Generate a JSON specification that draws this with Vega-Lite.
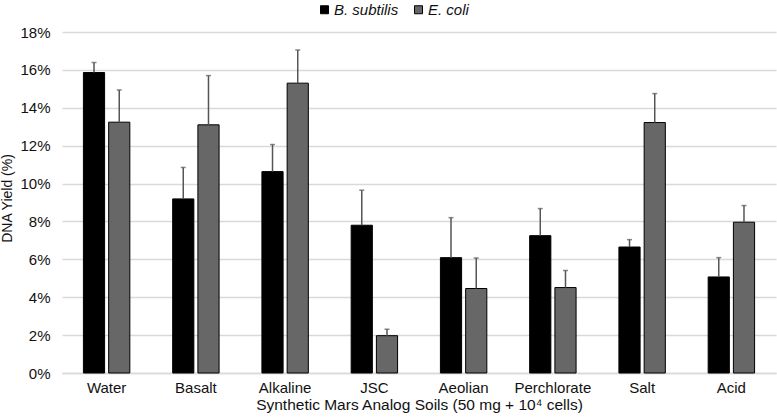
{
  "$schema": "https://vega.github.io/schema/vega-lite/v6.json",
  "width": 714,
  "height": 341,
  "autosize": {"type": "none"},
  "padding": {"left": 62, "top": 32, "right": 1, "bottom": 44},
  "background": "white",
  "config": {
    "view": {"stroke": null},
    "font": "Liberation Sans",
    "axis": {"labelFont": "Liberation Sans", "titleFont": "Liberation Sans", "labelColor": "#111", "titleColor": "#111"}
  },
  "data": {
    "values": [
      {"soil": "Water", "strain": "B. subtilis", "value": 0.1586, "err": 0.1639},
      {"soil": "Water", "strain": "E. coli", "value": 0.1324, "err": 0.1494},
      {"soil": "Basalt", "strain": "B. subtilis", "value": 0.0919, "err": 0.1085},
      {"soil": "Basalt", "strain": "E. coli", "value": 0.1310, "err": 0.1570},
      {"soil": "Alkaline", "strain": "B. subtilis", "value": 0.1063, "err": 0.1206},
      {"soil": "Alkaline", "strain": "E. coli", "value": 0.1530, "err": 0.1705},
      {"soil": "JSC", "strain": "B. subtilis", "value": 0.0780, "err": 0.0965},
      {"soil": "JSC", "strain": "E. coli", "value": 0.0197, "err": 0.0231},
      {"soil": "Aeolian", "strain": "B. subtilis", "value": 0.0609, "err": 0.0820},
      {"soil": "Aeolian", "strain": "E. coli", "value": 0.0446, "err": 0.0607},
      {"soil": "Perchlorate", "strain": "B. subtilis", "value": 0.0725, "err": 0.0868},
      {"soil": "Perchlorate", "strain": "E. coli", "value": 0.0451, "err": 0.0541},
      {"soil": "Salt", "strain": "B. subtilis", "value": 0.0665, "err": 0.0704},
      {"soil": "Salt", "strain": "E. coli", "value": 0.1322, "err": 0.1475},
      {"soil": "Acid", "strain": "B. subtilis", "value": 0.0507, "err": 0.0609},
      {"soil": "Acid", "strain": "E. coli", "value": 0.0796, "err": 0.0884}
    ]
  },
  "encoding": {
    "x": {
      "field": "soil", "type": "nominal", "sort": null,
      "scale": {"paddingInner": 0.48, "paddingOuter": 0.24},
      "axis": {
        "title": "Synthetic Mars Analog Soils (50 mg + 10⁴ cells)",
        "labelAngle": 0, "labelFontSize": 15, "titleFontSize": 15.5,
        "ticks": false, "domainColor": "#d9d9d9", "domainWidth": 1.5,
        "labelPadding": 7, "titlePadding": 2, "titleFontWeight": "normal",
        "labelOverlap": false, "labelBound": false
      }
    },
    "xOffset": {
      "field": "strain", "type": "nominal",
      "scale": {"domain": ["B. subtilis", "E. coli"], "paddingInner": 0.16, "paddingOuter": 0}
    }
  },
  "layer": [
    {
      "mark": {"type": "bar", "stroke": "#000", "strokeWidth": 1},
      "encoding": {
        "y": {
          "field": "value", "type": "quantitative",
          "scale": {"domain": [0, 0.18], "nice": false},
          "axis": {
            "title": "DNA Yield (%)", "format": ".0%", "tickCount": 10,
            "values": [0, 0.02, 0.04, 0.06, 0.08, 0.1, 0.12, 0.14, 0.16, 0.18],
            "labelFontSize": 15, "titleFontSize": 14, "titleFontWeight": "normal",
            "domain": false, "ticks": false, "labelPadding": 12,
            "titleX": -51, "titleY": 166, "titleBaseline": "alphabetic", "titleAlign": "center", "titleAngle": -90,
            "labelOverlap": false, "labelBound": false,
            "gridColor": "#d9d9d9", "gridWidth": 1.5
          }
        },
        "color": {
          "field": "strain", "type": "nominal",
          "scale": {"domain": ["B. subtilis", "E. coli"], "range": ["#000000", "#676767"]},
          "legend": {
            "title": null, "orient": "none", "direction": "horizontal",
            "legendX": 255, "legendY": -30,
            "symbolType": "square", "symbolSize": 64, "symbolStrokeColor": "#000", "symbolStrokeWidth": 1,
            "labelFontSize": 15, "labelFontStyle": "italic", "labelFont": "Liberation Sans",
            "labelColor": "#111", "columnPadding": 12, "labelOffset": 2
          }
        }
      }
    },
    {
      "mark": {"type": "rule", "color": "#555", "strokeWidth": 1.5},
      "encoding": {
        "y": {"field": "value", "type": "quantitative"},
        "y2": {"field": "err"}
      }
    },
    {
      "mark": {"type": "tick", "color": "#555", "thickness": 1.5, "size": 5},
      "encoding": {
        "y": {"field": "err", "type": "quantitative"}
      }
    }
  ]
}
